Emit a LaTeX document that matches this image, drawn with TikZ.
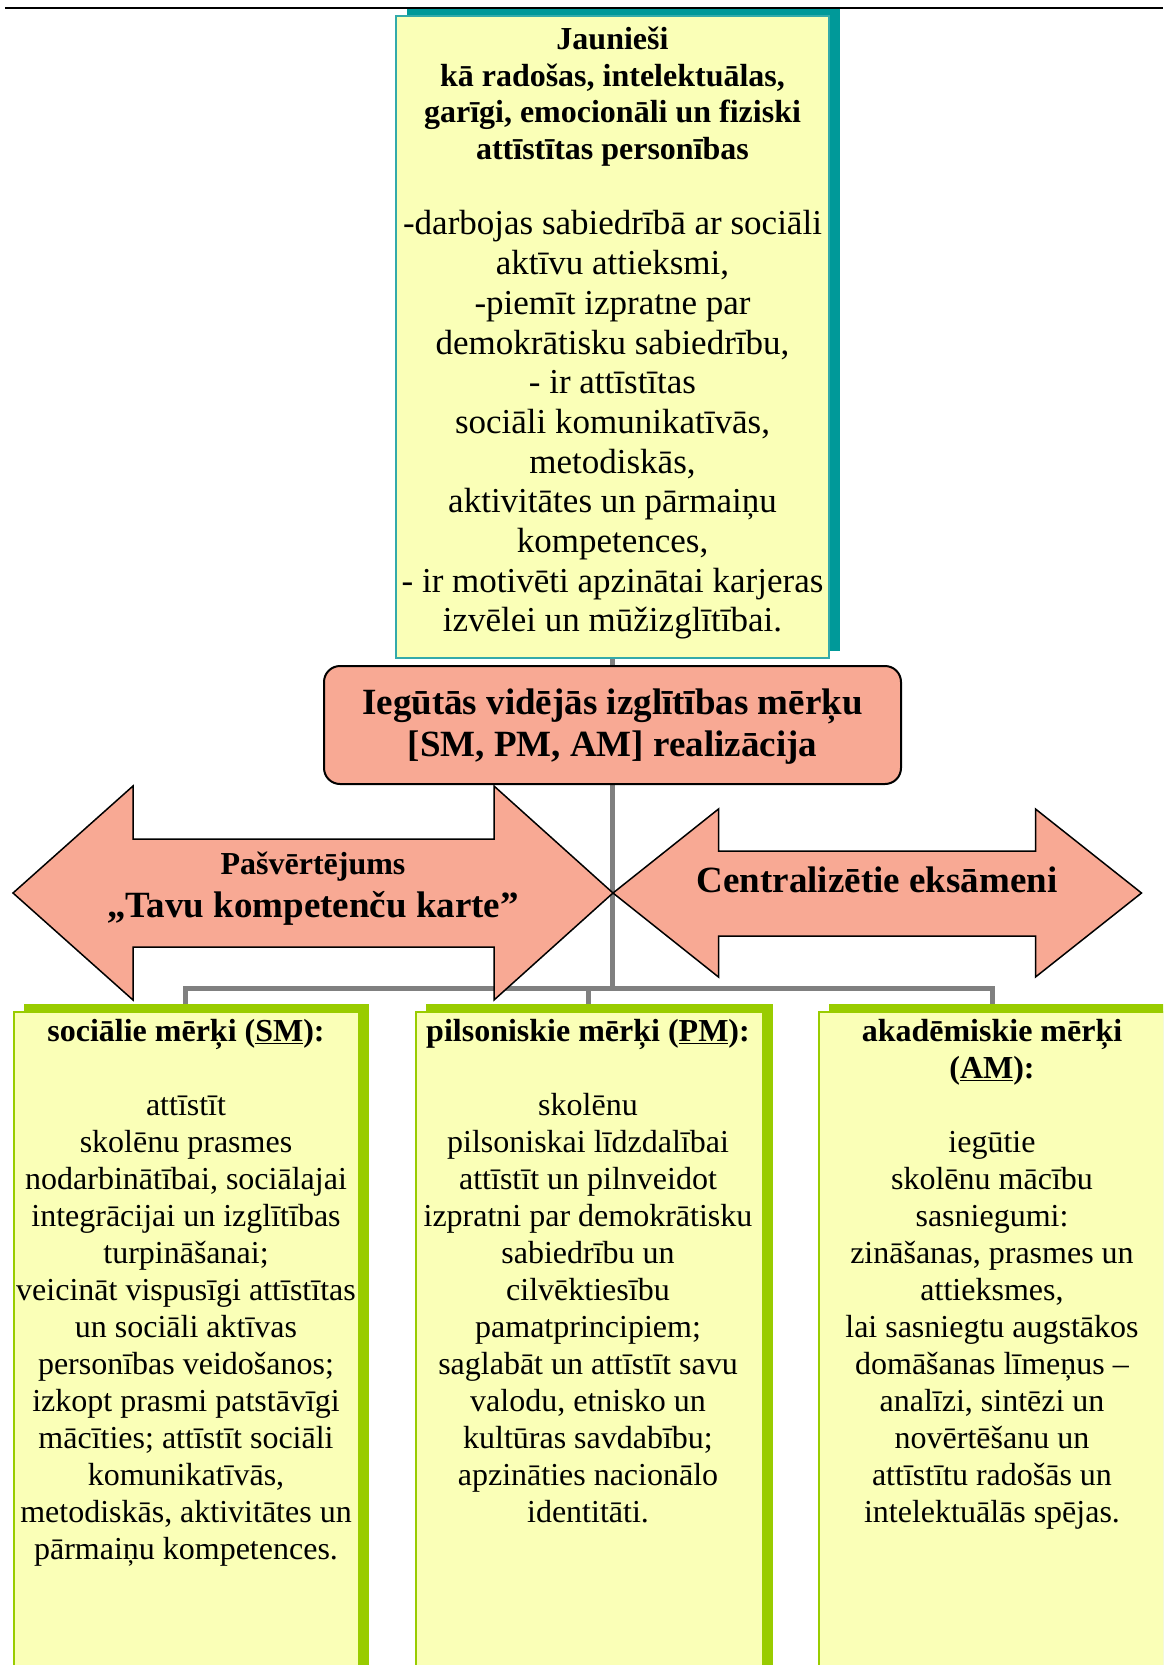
\documentclass[tikz,border=0pt]{standalone}
\usepackage{fontspec}
\setmainfont{Liberation Serif}
\usetikzlibrary{shadows}
\definecolor{boxyellow}{RGB}{250,255,183}
\definecolor{tealshadow}{RGB}{0,153,153}
\definecolor{tealborder}{RGB}{51,170,170}
\definecolor{salmonfill}{RGB}{248,169,148}
\definecolor{greenshadow}{RGB}{153,204,0}
\definecolor{linegray}{RGB}{128,128,128}
\pgfdeclarelayer{bg}
\pgfsetlayers{bg,main}
\begin{document}
\begin{tikzpicture}[x=1pt,y=-1pt,
  topbox/.style={draw=tealborder, line width=1.5pt, fill=boxyellow,
    minimum width=433pt, minimum height=642pt, inner sep=0pt,
    general shadow={fill=tealshadow, shadow xshift=11pt, shadow yshift=7pt}},
  goalbox/.style={draw=greenshadow, line width=1.5pt, fill=boxyellow,
    minimum height=720pt, inner sep=0pt, anchor=north west,
    general shadow={fill=greenshadow, shadow xshift=10pt, shadow yshift=8pt}},
  mainbox/.style={draw=black, line width=2pt, fill=salmonfill, rounded corners=16pt,
    minimum width=577pt, minimum height=118pt, inner sep=0pt},
  bigarrow/.style={draw=black, line width=1.5pt, fill=salmonfill, line join=miter},
  conn/.style={draw=linegray, line width=5pt, line join=miter},
  multitext/.style={align=center, inner sep=0pt, anchor=north, execute at begin node=\strut},
  boldtop/.style={multitext, font=\fontsize{32}{36.8}\selectfont\bfseries},
  bodytop/.style={multitext, font=\fontsize{35}{39.7}\selectfont},
  maintext/.style={multitext, font=\fontsize{37}{42.5}\selectfont\bfseries},
  arrowtext/.style={inner sep=0pt, anchor=base, font=\bfseries},
  goaltext/.style={multitext, font=\fontsize{32}{37}\selectfont},
]
\useasboundingbox (0,0) rectangle (1163,1665);
\clip (0,0) rectangle (1163,1665);
\begin{pgfonlayer}{bg}
\fill[white] (0,0) rectangle (1163,1665);
\end{pgfonlayer}

% header rule
\draw[line width=2.5pt] (5,8) -- (1163,8);

% top box
\node[topbox] (top) at (612.5,337) {};
% central box
\node[mainbox] (mid) at (612.5,725) {};

% goal boxes
\node[goalbox, minimum width=345pt] (g1) at (13,1011) {};
\node[goalbox, minimum width=347pt] (g2) at (415,1011) {};
\node[goalbox, minimum width=347pt] (g3) at (818,1011) {};

% connectors
\coordinate (hub) at (612.5,988);
\coordinate (hl) at (185,988);
\coordinate (hm) at (588,988);
\coordinate (hr) at (992,988);
\begin{pgfonlayer}{bg}
\draw[conn] (top.south) -- (mid.north);
\draw[conn] (mid.south) -- (hub);
\draw[conn] (g1.north -| hl) -- (hl) -- (hr) -- (g3.north -| hr);
\draw[conn] (hm) -- (g2.north -| hm);
\end{pgfonlayer}

% double arrows
\draw[bigarrow] (13,893) -- (133,786) -- (133,839) -- (494,839) -- (494,786)
  -- (613,893) -- (494,1000) -- (494,947) -- (133,947) -- (133,1000) -- cycle;
\draw[bigarrow] (613,893) -- (718.5,809) -- (718.5,851) -- (1035.5,851) -- (1035.5,809)
  -- (1141.5,893) -- (1035.5,977) -- (1035.5,936) -- (718.5,936) -- (718.5,977) -- cycle;

% texts
\node[boldtop] (ttitle) at (612.5,26.5) {Jaunieši\\kā radošas, intelektuālas,\\garīgi, emocionāli un fiziski\\attīstītas personības};
\node[bodytop] (tbody) at (612.5,210.5) {-darbojas sabiedrībā ar sociāli\\aktīvu attieksmi,\\-piemīt izpratne par\\demokrātisku sabiedrību,\\- ir attīstītas\\sociāli komunikatīvās,\\metodiskās,\\aktivitātes un pārmaiņu\\kompetences,\\- ir motivēti apzinātai karjeras\\izvēlei un mūžizglītībai.};

\node[maintext] (mtext) at (612.5,688.5) {Iegūtās vidējās izglītības mērķu\\ {[SM, PM, AM]} realizācija};

\node[arrowtext, font=\fontsize{32}{36.8}\selectfont\bfseries] (selfa) at (313,874) {Pašvērtējums};
\node[arrowtext, font=\fontsize{37}{42.5}\selectfont\bfseries] (selfb) at (313,917.5) {„Tavu kompetenču karte”};
\node[arrowtext, font=\fontsize{37}{42.5}\selectfont\bfseries] (exams) at (877,892) {Centralizētie eksāmeni};

\node[goaltext] (t1) at (186,1019) {\textbf{sociālie mērķi (\underline{SM}):}\\ \strut\\ attīstīt\\ skolēnu prasmes\\ nodarbinātībai, sociālajai\\ integrācijai un izglītības\\ turpināšanai;\\ veicināt vispusīgi attīstītas\\ un sociāli aktīvas\\ personības veidošanos;\\ izkopt prasmi patstāvīgi\\ mācīties; attīstīt sociāli\\ komunikatīvās,\\ metodiskās, aktivitātes un\\ pārmaiņu kompetences.};

\node[goaltext] (t2) at (588,1019) {\textbf{pilsoniskie mērķi (\underline{PM}):}\\ \strut\\ skolēnu\\ pilsoniskai līdzdalībai\\ attīstīt un pilnveidot\\ izpratni par demokrātisku\\ sabiedrību un\\ cilvēktiesību\\ pamatprincipiem;\\ saglabāt un attīstīt savu\\ valodu, etnisko un\\ kultūras savdabību;\\ apzināties nacionālo\\ identitāti.};

\node[goaltext] (t3) at (992,1019) {\textbf{akadēmiskie mērķi}\\ \textbf{(\underline{AM}):}\\ \strut\\ iegūtie\\ skolēnu mācību\\ sasniegumi:\\ zināšanas, prasmes un\\ attieksmes,\\ lai sasniegtu augstākos\\ domāšanas līmeņus –\\ analīzi, sintēzi un\\ novērtēšanu un\\ attīstītu radošās un\\ intelektuālās spējas.};
\end{tikzpicture}
\end{document}
